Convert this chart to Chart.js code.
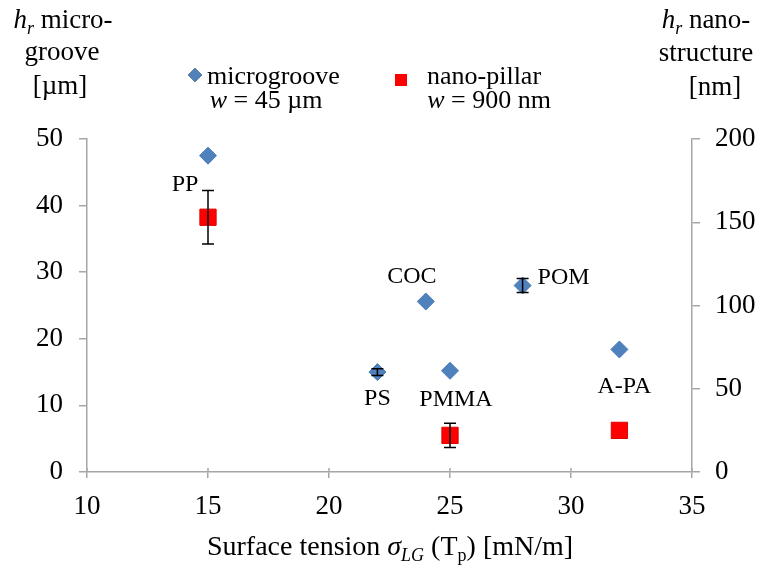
<!DOCTYPE html>
<html><head><meta charset="utf-8">
<script src="https://cdn.jsdelivr.net/npm/chart.js@4/dist/chart.umd.min.js"></script>
<style>html,body{margin:0;padding:0;background:#fff;}#wrap{width:762px;height:566px;position:relative;}</style>
</head><body><div id="wrap"><canvas id="c" width="762" height="566"></canvas></div>
<script>
// Residual height vs. surface tension for six polymers
const microMaterials = ['PP', 'PS', 'COC', 'PMMA', 'POM', 'A-PA'];
const microTension = [15, 22, 24, 25, 28, 32];
const microHeight = [47.5, 15.0, 25.6, 15.2, 28.0, 18.4];   // µm
const microError = [0, 0.5, 0, 0, 1.05, 0];

const nanoTension = [15, 25, 32];
const nanoHeight = [153, 22, 25];                             // nm
const nanoError = [16, 7.3, 0];

const xTicks = [10, 15, 20, 25, 30, 35];
const leftTicks = [0, 10, 20, 30, 40, 50];
const rightTicks = [0, 50, 100, 150, 200];

const SERIF = "'Liberation Serif', 'Times New Roman', serif";
const AXIS = '#a6a6a6';
const BLUE = '#4f81bd';
const RED = '#ff0000';

// label placement around each microgroove point (text anchor offsets)
const labelPlacement = {
  'PP':   {dx: -23, dy: 35, align: 'center'},
  'PS':   {dx: 0,   dy: 33, align: 'center'},
  'COC':  {dx: -14, dy: -19, align: 'center'},
  'PMMA': {dx: 6,   dy: 35, align: 'center'},
  'POM':  {dx: 15,  dy: -2, align: 'left'},
  'A-PA': {dx: 5,   dy: 44, align: 'center'}
};

function drawRuns(ctx, runs, cx, baseline, size) {
  const fontOf = r => (r.italic ? 'italic ' : '') + (r.sub ? Math.round(size * 0.65) : size) + 'px ' + SERIF;
  let total = 0;
  runs.forEach(r => { ctx.font = fontOf(r); total += ctx.measureText(r.t).width; });
  let x = cx - total / 2;
  ctx.textAlign = 'left';
  ctx.textBaseline = 'alphabetic';
  runs.forEach(r => {
    ctx.font = fontOf(r);
    ctx.fillText(r.t, x, baseline + (r.sub ? size * 0.22 : 0));
    x += ctx.measureText(r.t).width;
  });
}

const decorations = {
  id: 'decorations',
  afterDatasetsDraw(chart) {
    const ctx = chart.ctx;
    const xs = chart.scales.x, yl = chart.scales.y, yr = chart.scales.y2;
    ctx.save();
    ctx.strokeStyle = '#000';
    ctx.lineWidth = 1.5;
    const bar = (xv, lo, hi, sc) => {
      const px = xs.getPixelForValue(xv);
      const a = sc.getPixelForValue(lo), b = sc.getPixelForValue(hi);
      ctx.beginPath();
      ctx.moveTo(px, a); ctx.lineTo(px, b);
      ctx.moveTo(px - 6, a); ctx.lineTo(px + 6, a);
      ctx.moveTo(px - 6, b); ctx.lineTo(px + 6, b);
      ctx.stroke();
    };
    microTension.forEach((t, i) => { if (microError[i] > 0) bar(t, microHeight[i] - microError[i], microHeight[i] + microError[i], yl); });
    nanoTension.forEach((t, i) => { if (nanoError[i] > 0) bar(t, nanoHeight[i] - nanoError[i], nanoHeight[i] + nanoError[i], yr); });
    ctx.restore();
  },
  afterDraw(chart) {
    const ctx = chart.ctx;
    const xs = chart.scales.x, yl = chart.scales.y;
    ctx.save();
    // short upward stubs so the category ticks cross the axis line
    ctx.strokeStyle = AXIS;
    ctx.lineWidth = 1.5;
    ctx.beginPath();
    xTicks.forEach(v => { const px = xs.getPixelForValue(v); ctx.moveTo(px, yl.bottom); ctx.lineTo(px, yl.bottom - 4); });
    ctx.stroke();
    ctx.fillStyle = '#000';
    // material labels
    ctx.font = '24px ' + SERIF;
    ctx.textBaseline = 'alphabetic';
    microMaterials.forEach((m, i) => {
      const p = labelPlacement[m];
      ctx.textAlign = p.align;
      ctx.fillText(m, xs.getPixelForValue(microTension[i]) + p.dx, yl.getPixelForValue(microHeight[i]) + p.dy);
    });
    // axis titles
    drawRuns(ctx, [{t: 'h', italic: true}, {t: 'r', italic: true, sub: true}, {t: ' micro-'}], 63, 28, 27);
    drawRuns(ctx, [{t: 'groove'}], 62, 60, 27);
    drawRuns(ctx, [{t: '[µm]'}], 60, 94, 27);
    drawRuns(ctx, [{t: 'h', italic: true}, {t: 'r', italic: true, sub: true}, {t: ' nano-'}], 706, 28, 27);
    drawRuns(ctx, [{t: 'structure'}], 706, 61, 27);
    drawRuns(ctx, [{t: '[nm]'}], 715, 95, 27);
    drawRuns(ctx, [{t: 'Surface tension '}, {t: 'σ', italic: true}, {t: 'LG', italic: true, sub: true},
                   {t: ' (T'}, {t: 'p', sub: true}, {t: ') [mN/m]'}], 390, 555, 28);
    // legend
    Chart.helpers.drawPoint(ctx, {pointStyle: 'rectRot', radius: 7, borderWidth: 0}, 195, 75);
    ctx.fillStyle = BLUE;
    ctx.fill();
    ctx.fillStyle = RED;
    ctx.fillRect(395, 74, 12, 12);
    ctx.fillStyle = '#000';
    ctx.font = '26px ' + SERIF;
    ctx.textAlign = 'left';
    ctx.fillText('microgroove', 207, 84);
    ctx.fillText('nano-pillar', 427, 84);
    drawRuns(ctx, [{t: 'w', italic: true}, {t: ' = 45 µm'}], 266, 108, 26);
    drawRuns(ctx, [{t: 'w', italic: true}, {t: ' = 900 nm'}], 489, 108, 26);
    ctx.restore();
  }
};

const tickFont = {family: SERIF, size: 27};

new Chart(document.getElementById('c'), {
  type: 'scatter',
  data: {
    datasets: [
      {
        label: 'microgroove',
        data: microTension.map((t, i) => ({x: t, y: microHeight[i]})),
        yAxisID: 'y',
        pointStyle: 'rectRot',
        pointRadius: 8.5,
        backgroundColor: BLUE,
        borderColor: '#4a7ab5',
        borderWidth: 1
      },
      {
        label: 'nano-pillar',
        data: nanoTension.map((t, i) => ({x: t, y: nanoHeight[i]})),
        yAxisID: 'y2',
        pointStyle: 'rect',
        pointRadius: 11.5,
        backgroundColor: RED,
        borderColor: '#e00000',
        borderWidth: 1
      }
    ]
  },
  options: {
    responsive: false,
    animation: false,
    devicePixelRatio: 1,
    layout: {padding: {top: 139, left: 0, right: 0, bottom: 0}},
    plugins: {legend: {display: false}, tooltip: {enabled: false}, title: {display: false}},
    scales: {
      x: {
        type: 'linear', position: 'bottom', min: 10, max: 35,
        afterBuildTicks: s => { s.ticks = xTicks.map(v => ({value: v})); },
        ticks: {font: tickFont, color: '#000', padding: 13, maxRotation: 0},
        grid: {drawOnChartArea: false, drawTicks: true, tickLength: 6, color: AXIS, lineWidth: 1.5},
        border: {color: AXIS, width: 1.5},
        afterFit: s => { s.height = 94; }
      },
      y: {
        type: 'linear', position: 'left', min: 0, max: 50,
        afterBuildTicks: s => { s.ticks = leftTicks.map(v => ({value: v})); },
        ticks: {font: tickFont, color: '#000', padding: 16},
        grid: {drawOnChartArea: false, drawTicks: true, tickLength: 8, color: AXIS, lineWidth: 1.5},
        border: {color: AXIS, width: 1.5},
        afterFit: s => { s.width = 87; }
      },
      y2: {
        type: 'linear', position: 'right', min: 0, max: 200,
        afterBuildTicks: s => { s.ticks = rightTicks.map(v => ({value: v})); },
        ticks: {font: tickFont, color: '#000', padding: 15},
        grid: {drawOnChartArea: false, drawTicks: true, tickLength: 8, color: AXIS, lineWidth: 1.5},
        border: {color: AXIS, width: 1.5},
        afterFit: s => { s.width = 70; }
      }
    }
  },
  plugins: [decorations]
});
</script>
</body></html>
